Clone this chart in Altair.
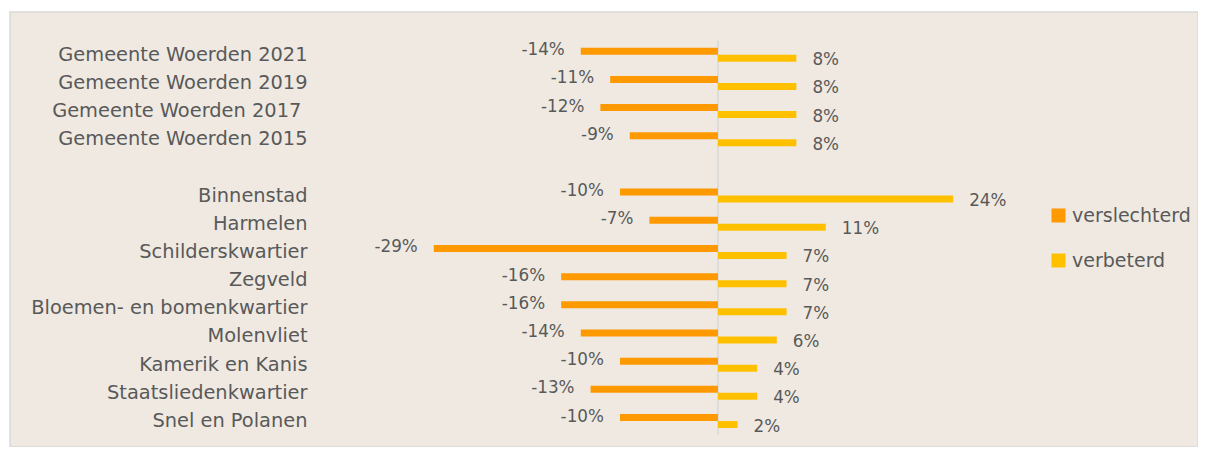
import altair as alt
import pandas as pd

title_text = "Ontwikkeling van de sfeer van de buurt de laatste jaren, naar wijk"

categories = [
    "Gemeente Woerden 2021",
    "Gemeente Woerden 2019",
    "Gemeente Woerden 2017\u00a0\u200b",
    "Gemeente Woerden 2015",
    " ",
    "Binnenstad",
    "Harmelen",
    "Schilderskwartier",
    "Zegveld",
    "Bloemen- en bomenkwartier",
    "Molenvliet",
    "Kamerik en Kanis",
    "Staatsliedenkwartier",
    "Snel en Polanen",
]
areas = [c for c in categories if c.strip()]
verslechterd = [-14, -11, -12, -9, -10, -7, -29, -16, -16, -14, -10, -13, -10]
verbeterd = [8, 8, 8, 8, 24, 11, 7, 7, 7, 6, 4, 4, 2]
series = ["verslechterd", "verbeterd"]
colors = ["#FF9900", "#FFC000"]

rows = []
for a, v1, v2 in zip(areas, verslechterd, verbeterd):
    rows.append({"area": a, "series": series[0], "value": v1 / 100, "label": f"{v1}%"})
    rows.append({"area": a, "series": series[1], "value": v2 / 100, "label": f"{v2}%"})
df = pd.DataFrame(rows)

FONT = "DejaVu Sans"
TXT = "#595959"
FS_CAT = 19.4
FS_VAL = 16.8
FS_LEG = 19

y_enc = alt.Y(
    "area:N",
    scale=alt.Scale(domain=categories, paddingInner=0.503, paddingOuter=0.97, align=0.653),
    axis=alt.Axis(
        title=None, ticks=False, tickSize=0, domain=False, labelPadding=0, offset=-297,
        labelFontSize=FS_CAT, labelFont=FONT, labelColor=TXT, labelLimit=500, grid=False,
    ),
)
x_enc = alt.X(
    "value:Q",
    scale=alt.Scale(domain=[-0.7224, 0.4898], nice=False, zero=False),
    axis=None,
)
yoff = alt.YOffset("series:N", scale=alt.Scale(domain=series, paddingInner=0, paddingOuter=0))

base = alt.Chart(df)

bars = base.mark_bar().encode(
    x=x_enc,
    x2=alt.datum(0),
    y=y_enc,
    yOffset=yoff,
    color=alt.Color(
        "series:N",
        scale=alt.Scale(domain=series, range=colors),
        legend=alt.Legend(
            title=None, orient="none", legendX=1039, legendY=194,
            symbolType="square", symbolSize=196, symbolStrokeWidth=0,
            labelFontSize=FS_LEG, labelFont=FONT, labelColor=TXT,
            rowPadding=25, labelOffset=4, padding=0,
        ),
    ),
)

neg_labels = base.transform_filter(alt.datum.value < 0).mark_text(
    align="right", baseline="middle", dx=-16, dy=-1, fontSize=FS_VAL, font=FONT, color=TXT
).encode(x=x_enc, y=y_enc, yOffset=yoff, text="label:N")

pos_labels = base.transform_filter(alt.datum.value > 0).mark_text(
    align="left", baseline="middle", dx=16, dy=2, fontSize=FS_VAL, font=FONT, color=TXT
).encode(x=x_enc, y=y_enc, yOffset=yoff, text="label:N")

zero_rule = alt.Chart(pd.DataFrame({"zero": [0.0]})).mark_rule(
    color="#D9D9D9", strokeWidth=1.5
).encode(x=alt.X("zero:Q", axis=None), y=alt.value(28.6), y2=alt.value(423.1))

chart = alt.layer(zero_rule, bars, neg_labels, pos_labels).properties(
    width=1188,
    height=435,
    title=alt.TitleParams(
        text=title_text, anchor="start", orient="top", offset=4.5, baseline="alphabetic",
        dx=-10, font=FONT, fontSize=20, fontStyle="italic", fontWeight="normal", color="#000000",
    ),
    autosize=alt.AutoSizeParams(type="none"),
    padding={"left": 2, "top": 4, "right": 0, "bottom": 0},
).configure(
    background="#FFFFFF", font=FONT,
).configure_view(
    fill="#EFE9E2", stroke="#D9D9D9", strokeWidth=1.5,
)

chart.save("out.html", embed_options={"renderer": "svg", "actions": False})
